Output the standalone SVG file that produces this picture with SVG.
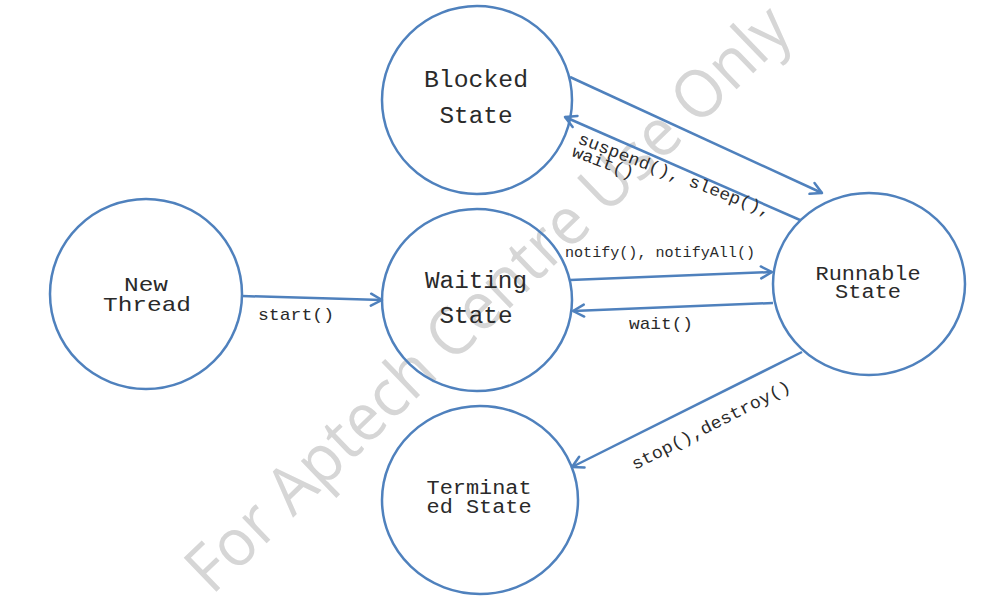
<svg xmlns="http://www.w3.org/2000/svg" width="983" height="612" viewBox="0 0 983 612">
<style>
.node{fill:none;stroke:#4F81BD;stroke-width:2.5}
.edge{fill:none;stroke:#4F81BD;stroke-width:2.5;marker-end:url(#arr)}
.nl{font-family:"Liberation Mono","Courier New",monospace;fill:#2a2a2a;text-anchor:middle}
.el{font-family:"Liberation Mono","Courier New",monospace;fill:#2a2a2a}
.wm{font-family:"Open Sans","Liberation Sans",sans-serif;fill:#d6d6d6;font-size:66px}
</style>
<defs>
<marker id="arr" markerUnits="userSpaceOnUse" markerWidth="16" markerHeight="16" viewBox="0 0 16 16" refX="13" refY="8" orient="auto">
<path d="M2,2 L13,8 L2,14" fill="none" stroke="#4F81BD" stroke-width="2.5" stroke-linecap="round" stroke-linejoin="round"/>
</marker>
</defs>
<rect width="983" height="612" fill="#fff"/>
<text class="wm" x="0" y="0" transform="translate(212,596) rotate(-44)" textLength="810" lengthAdjust="spacingAndGlyphs">For Aptech Centre Use Only</text>
<g id="blocked">
<ellipse class="node" cx="477" cy="100" rx="95" ry="94"/>
<text class="nl" x="476" y="87" font-size="23" textLength="104" lengthAdjust="spacingAndGlyphs">Blocked</text>
<text class="nl" x="476" y="123" font-size="23" textLength="73" lengthAdjust="spacingAndGlyphs">State</text>
</g>
<g id="new-thread">
<ellipse class="node" cx="146" cy="294" rx="96" ry="95"/>
<text class="nl" x="146" y="291" font-size="21" textLength="44" lengthAdjust="spacingAndGlyphs">New</text>
<text class="nl" x="147" y="311" font-size="21" textLength="88" lengthAdjust="spacingAndGlyphs">Thread</text>
</g>
<g id="waiting">
<ellipse class="node" cx="477" cy="300" rx="95" ry="91"/>
<text class="nl" x="476" y="288" font-size="23" textLength="102" lengthAdjust="spacingAndGlyphs">Waiting</text>
<text class="nl" x="476" y="323" font-size="23" textLength="73" lengthAdjust="spacingAndGlyphs">State</text>
</g>
<g id="runnable">
<ellipse class="node" cx="869" cy="284" rx="96" ry="91"/>
<text class="nl" x="868" y="280" font-size="20" textLength="105" lengthAdjust="spacingAndGlyphs">Runnable</text>
<text class="nl" x="868" y="298" font-size="20" textLength="66" lengthAdjust="spacingAndGlyphs">State</text>
</g>
<g id="terminated">
<ellipse class="node" cx="480" cy="500" rx="98" ry="94"/>
<text class="nl" x="479" y="494" font-size="20" textLength="105" lengthAdjust="spacingAndGlyphs">Terminat</text>
<text class="nl" x="479" y="513" font-size="20" textLength="105" lengthAdjust="spacingAndGlyphs">ed State</text>
</g>
<g id="connectors">
<line class="edge" x1="242" y1="296" x2="382" y2="300"/>
<line class="edge" x1="570" y1="77" x2="822" y2="193"/>
<line class="edge" x1="800" y1="220" x2="565" y2="117"/>
<line class="edge" x1="570" y1="280" x2="772" y2="272"/>
<line class="edge" x1="773" y1="303" x2="573" y2="311"/>
<line class="edge" x1="802" y1="352" x2="572" y2="467"/>
<text class="el" x="258" y="320" font-size="17" textLength="76" lengthAdjust="spacingAndGlyphs">start()</text>
<text class="el" x="565" y="257" font-size="14" textLength="190" lengthAdjust="spacingAndGlyphs">notify(), notifyAll()</text>
<text class="el" x="629" y="329" font-size="17" textLength="64" lengthAdjust="spacingAndGlyphs">wait()</text>
<g transform="translate(577,143) rotate(21)">
<text class="el" x="0" y="0" font-size="17" textLength="205" lengthAdjust="spacingAndGlyphs">suspend(), sleep(),</text>
<text class="el" x="-1" y="14" font-size="17" textLength="65" lengthAdjust="spacingAndGlyphs">wait()</text>
</g>
<text class="el" x="0" y="0" font-size="17" transform="translate(635,470) rotate(-27)" textLength="176" lengthAdjust="spacingAndGlyphs">stop(),destroy()</text>
</g>
</svg>
